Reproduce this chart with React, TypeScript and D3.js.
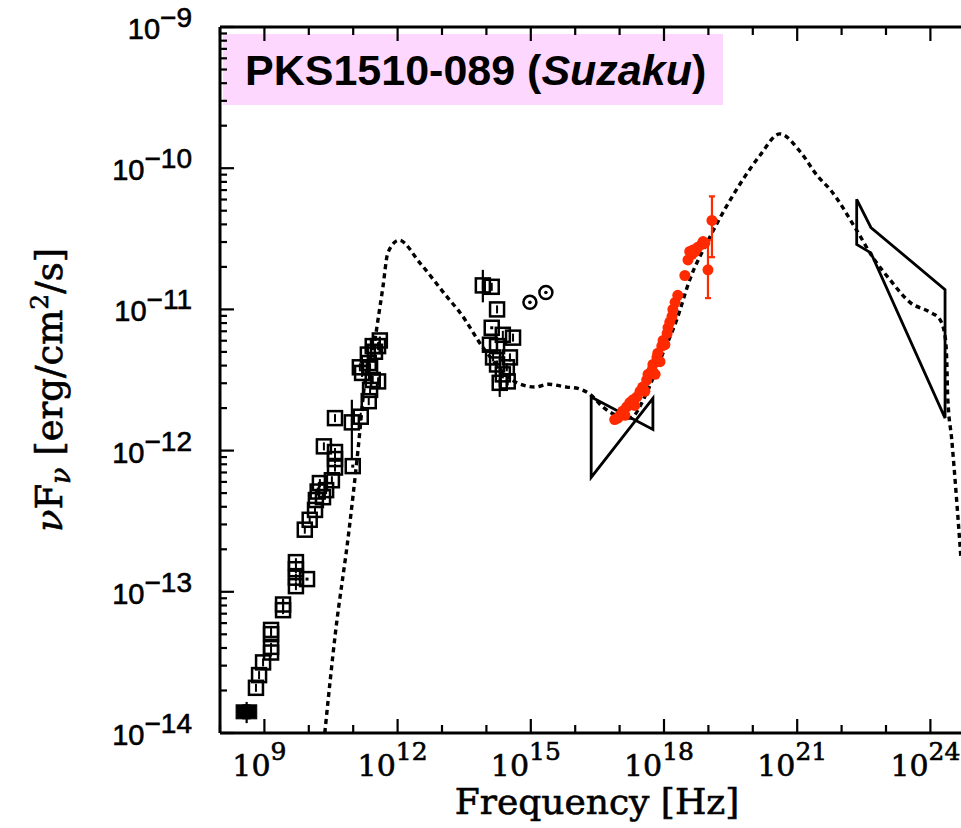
import React from 'react';
import * as d3 from 'd3';

const W = 961;
const H = 828;

// axis ticks (exponents)
const xTickExps = [9, 12, 15, 18, 21, 24];
const yTickExps = [-14, -13, -12, -11, -10, -9];

// SED model (log10 nu [Hz], log10 nuFnu)
const modelLogNu = [10.36, 10.60, 10.90, 11.11, 11.26, 11.49, 11.56, 11.67, 11.78, 12.03, 12.50, 13.11, 13.40, 13.97, 14.69, 15.10, 15.40, 15.81, 16.06, 16.33, 16.62, 17.01, 17.23, 17.61, 17.91, 18.29, 18.58, 19.03, 19.82, 20.16, 20.61, 21.06, 21.47, 21.74, 22.34, 22.70, 23.09, 23.54, 23.99, 24.21, 24.33, 24.37, 24.39, 24.48, 24.69];
const modelLogF = [-14.0, -13.29, -12.58, -11.99, -11.52, -11.215, -11.07, -10.84, -10.60, -10.51, -10.67, -10.91, -11.02, -11.29, -11.52, -11.55, -11.53, -11.55, -11.56, -11.60, -11.69, -11.76, -11.77, -11.59, -11.36, -11.07, -10.79, -10.49, -10.06, -9.91, -9.757, -9.88, -10.06, -10.15, -10.44, -10.63, -10.79, -10.95, -11.02, -11.07, -11.19, -11.38, -11.62, -11.92, -12.77];

// open squares (radio / mm / IR-optical)
const sqLogNu = [8.81, 8.88, 8.97, 9.15, 9.15, 9.15, 9.15, 9.42, 9.42, 9.71, 9.71, 9.71, 9.71, 9.91, 10.02, 10.14, 10.16, 10.20, 10.32, 10.39, 10.25, 10.52, 10.59, 10.59, 10.59, 10.34, 10.59, 10.97, 11.17, 11.35, 11.20, 11.44, 11.56, 11.35, 11.33, 11.44, 11.56, 11.60, 11.38, 11.15, 11.49, 11.38,
  13.92, 14.12, 14.24, 14.37, 14.60, 14.08, 14.24, 14.53, 14.15, 14.24, 14.46, 14.37, 14.30, 14.48];
const sqLogF = [-13.68, -13.59, -13.50, -13.39, -13.30, -13.43, -13.27, -13.09, -13.13, -12.79, -12.84, -12.90, -12.96, -12.56, -12.49, -12.42, -12.35, -12.29, -12.33, -12.28, -12.23, -12.21, -12.12, -12.06, -12.01, -11.97, -11.77, -11.80, -11.76, -11.65, -11.45, -11.50, -11.51, -11.38, -11.32, -11.26, -11.26, -11.22, -11.41, -11.41, -11.30, -11.57,
  -10.83, -10.84, -11.00, -11.18, -11.20, -11.25, -11.26, -11.34, -11.34, -11.39, -11.41, -11.46, -11.52, -11.51];

// squares with a central dot
const dotSqLogNu = [9.96, 10.99, 14.12];
const dotSqLogF = [-12.91, -12.11, -11.13];

// filled squares
const filledLogNu = [8.52, 8.67];
const filledLogF = [-13.85, -13.85];

// circles with dot (UV)
const circLogNu = [14.98, 15.34];
const circLogF = [-10.95, -10.88];

// black error bars
const errLogNu = [8.60, 9.42, 10.97, 13.92, 14.30];
const errLo = [-13.93, -13.13, -12.06, -10.95, -11.62];
const errHi = [-13.78, -13.05, -11.64, -10.72, -11.48];

// Suzaku X-ray points
const suzLogNu = [16.96, 17.01, 17.07, 17.16, 17.23, 17.30, 17.39, 17.46, 17.52, 17.61, 17.64, 17.73, 17.75, 17.84, 17.86, 17.95, 17.98, 18.07, 18.09, 18.13, 18.18, 18.20, 18.25, 18.31, 18.47, 18.54, 18.63, 18.58, 18.70, 18.65, 18.76, 18.85, 18.88, 18.92, 18.99, 19.08,
  16.89, 17.12, 17.34, 17.57, 17.80, 17.91, 18.02];
const suzLogF = [-11.77, -11.75, -11.72, -11.69, -11.66, -11.64, -11.62, -11.58, -11.55, -11.50, -11.46, -11.43, -11.39, -11.34, -11.31, -11.26, -11.22, -11.17, -11.13, -11.09, -11.05, -11.00, -10.95, -10.90, -10.76, -10.65, -10.61, -10.59, -10.59, -10.58, -10.56, -10.54, -10.52, -10.53, -10.72, -10.37,
  -11.78, -11.75, -11.68, -11.58, -11.46, -11.37, -11.25];
const suzErrLogNu = [18.99, 19.08];
const suzErrLo = [-10.92, -10.63];
const suzErrHi = [-10.51, -10.20];

// bowties
const xrayBowLogNu = [16.36, 17.75, 17.75, 16.36];
const xrayBowLogF = [-11.62, -11.85, -11.63, -12.19];
const gamBowLogNu = [22.34, 22.66, 24.33, 24.33, 22.66, 22.34];
const gamBowLogF = [-10.22, -10.42, -10.86, -11.77, -10.60, -10.54];

const RED = '#ff2a00';
const SERIF = '"DejaVu Serif", "Liberation Serif", serif';
const SANS = '"Liberation Sans", Arial, sans-serif';

export default function App() {
  const left = 220, right = 974.8, top = 27, bottom = 733;
  const x = d3.scaleLog().domain([1e8, 1e25]).range([left, right]);
  const y = d3.scaleLog().domain([1e-14, 1e-9]).range([bottom, top]);
  const X = (l: number) => x(Math.pow(10, l));
  const Y = (l: number) => y(Math.pow(10, l));

  const modelPts: [number, number][] = modelLogNu.map((v, i) => [X(v), Y(modelLogF[i])]);
  const modelPath = d3.line().curve(d3.curveMonotoneX)(modelPts) || '';

  const poly = (nu: number[], f: number[]) =>
    nu.map((v, i) => `${X(v)},${Y(f[i])}`).join(' ');

  const xMinor: number[] = d3.range(8, 26);
  const yMinor: number[] = [];
  for (let e = -14; e < -9; e++) for (let m = 1; m <= 9; m++) yMinor.push(m * Math.pow(10, e));
  yMinor.push(1e-9);

  const half = 7;

  return (
    <svg width={W} height={H} style={{ position: 'absolute', left: 0, top: 0, background: '#fff' }}>
      <defs>
        <clipPath id="plotClip">
          <rect x={left} y={top} width={right - left} height={bottom - top} />
        </clipPath>
      </defs>
      <rect x={0} y={0} width={W} height={H} fill="#fff" />

      {/* title box */}
      <rect x={223} y={34} width={500} height={71} fill="#fdd7fd" />
      <text x={245} y={85} fontFamily={SANS} fontWeight="bold" fontSize={43} fill="#000">
        <tspan>PKS1510-089 (</tspan>
        <tspan fontStyle="italic">Suzaku</tspan>
        <tspan>)</tspan>
      </text>

      {/* axes frame */}
      <g stroke="#000" strokeWidth={3} fill="none">
        <line x1={left} y1={top} x2={left} y2={bottom} />
        <line x1={left} y1={bottom} x2={right} y2={bottom} />
        <line x1={left} y1={top} x2={right} y2={top} />
        <line x1={right} y1={top} x2={right} y2={bottom} />
      </g>

      {/* ticks */}
      <g stroke="#000" strokeWidth={2.2}>
        {xMinor.map((e) => {
          const major = xTickExps.includes(e);
          const len = major ? 14 : 8;
          const px = X(e);
          return (
            <g key={'xt' + e}>
              <line x1={px} x2={px} y1={bottom} y2={bottom - len} />
              <line x1={px} x2={px} y1={top} y2={top + len} />
            </g>
          );
        })}
        {yMinor.map((v, i) => {
          const major = Math.abs(Math.log10(v) - Math.round(Math.log10(v))) < 1e-6;
          const len = major ? 14 : 7;
          const py = y(v);
          return <line key={'yt' + i} x1={left} x2={left + len} y1={py} y2={py} />;
        })}
      </g>

      {/* x tick labels */}
      {xTickExps.map((e) => (
        <text key={'xl' + e} x={X(e) - 5} y={776} textAnchor="middle" fontFamily={SERIF} fontSize={30}
          fill="#000" stroke="#000" strokeWidth={0.6}>
          <tspan>10</tspan>
          <tspan dy={-16} fontSize={25}>{e}</tspan>
        </text>
      ))}

      {/* y tick labels */}
      {yTickExps.map((e) => (
        <text key={'yl' + e} x={192} y={Y(e) + 12} textAnchor="end" fontFamily={SANS} fontSize={29}
          fill="#000" stroke="#000" strokeWidth={0.6}>
          <tspan>10</tspan>
          <tspan dy={-12} fontSize={28}>{'\u2212' + Math.abs(e)}</tspan>
        </text>
      ))}

      {/* axis titles */}
      <text x={597} y={814} textAnchor="middle" fontFamily={SERIF} fontSize={36} fill="#000" stroke="#000" strokeWidth={0.6}>Frequency [Hz]</text>
      <text transform="translate(62,390) rotate(-90)" textAnchor="middle" fontFamily={SERIF} fontSize={37} fill="#000" stroke="#000" strokeWidth={0.6}>
        <tspan fontStyle="italic">ν</tspan>
        <tspan>F</tspan>
        <tspan dy={8} fontSize={27} fontStyle="italic">ν</tspan>
        <tspan dy={-8}> [erg/cm</tspan>
        <tspan dy={-14} fontSize={25}>2</tspan>
        <tspan dy={14}>/s]</tspan>
      </text>

      <g clipPath="url(#plotClip)">
        {/* model */}
        <path d={modelPath} fill="none" stroke="#000" strokeWidth={3.4} strokeDasharray="5,4" />

        {/* bowties */}
        <polygon points={poly(xrayBowLogNu, xrayBowLogF)} fill="none" stroke="#000" strokeWidth={2.8} strokeLinejoin="miter" />
        <polygon points={poly(gamBowLogNu, gamBowLogF)} fill="none" stroke="#000" strokeWidth={2.8} strokeLinejoin="miter" />

        {/* black error bars */}
        {errLogNu.map((v, i) => (
          <line key={'eb' + i} x1={X(v)} x2={X(v)} y1={Y(errLo[i])} y2={Y(errHi[i])} stroke="#000" strokeWidth={2.2} />
        ))}

        {/* open squares */}
        {sqLogNu.map((v, i) => {
          const cx = X(v), cy = Y(sqLogF[i]);
          return (
            <g key={'sq' + i}>
              <rect x={cx - half} y={cy - half} width={2 * half} height={2 * half} fill="none" stroke="#000" strokeWidth={2.5} />
              <line x1={cx} x2={cx} y1={cy - 4} y2={cy + 4} stroke="#000" strokeWidth={2} />
            </g>
          );
        })}
        {dotSqLogNu.map((v, i) => {
          const cx = X(v), cy = Y(dotSqLogF[i]);
          return (
            <g key={'dsq' + i}>
              <rect x={cx - half} y={cy - half} width={2 * half} height={2 * half} fill="none" stroke="#000" strokeWidth={2.5} />
              <rect x={cx - 1.5} y={cy - 1.5} width={3} height={3} fill="#000" />
            </g>
          );
        })}
        {filledLogNu.map((v, i) => {
          const cx = X(v), cy = Y(filledLogF[i]);
          return <rect key={'fsq' + i} x={cx - half} y={cy - half} width={2 * half} height={2 * half} fill="#000" stroke="#000" strokeWidth={1} />;
        })}
        {circLogNu.map((v, i) => {
          const cx = X(v), cy = Y(circLogF[i]);
          return (
            <g key={'ci' + i}>
              <circle cx={cx} cy={cy} r={6.5} fill="none" stroke="#000" strokeWidth={2.5} />
              <circle cx={cx} cy={cy} r={1.8} fill="#000" />
            </g>
          );
        })}

        {/* Suzaku */}
        {suzErrLogNu.map((v, i) => (
          <g key={'se' + i} stroke={RED} strokeWidth={2.2}>
            <line x1={X(v)} x2={X(v)} y1={Y(suzErrLo[i])} y2={Y(suzErrHi[i])} />
            <line x1={X(v) - 3} x2={X(v) + 3} y1={Y(suzErrLo[i])} y2={Y(suzErrLo[i])} />
            <line x1={X(v) - 3} x2={X(v) + 3} y1={Y(suzErrHi[i])} y2={Y(suzErrHi[i])} />
          </g>
        ))}
        {suzLogNu.map((v, i) => (
          <circle key={'sz' + i} cx={X(v)} cy={Y(suzLogF[i])} r={5.5} fill={RED} />
        ))}
      </g>
    </svg>
  );
}
